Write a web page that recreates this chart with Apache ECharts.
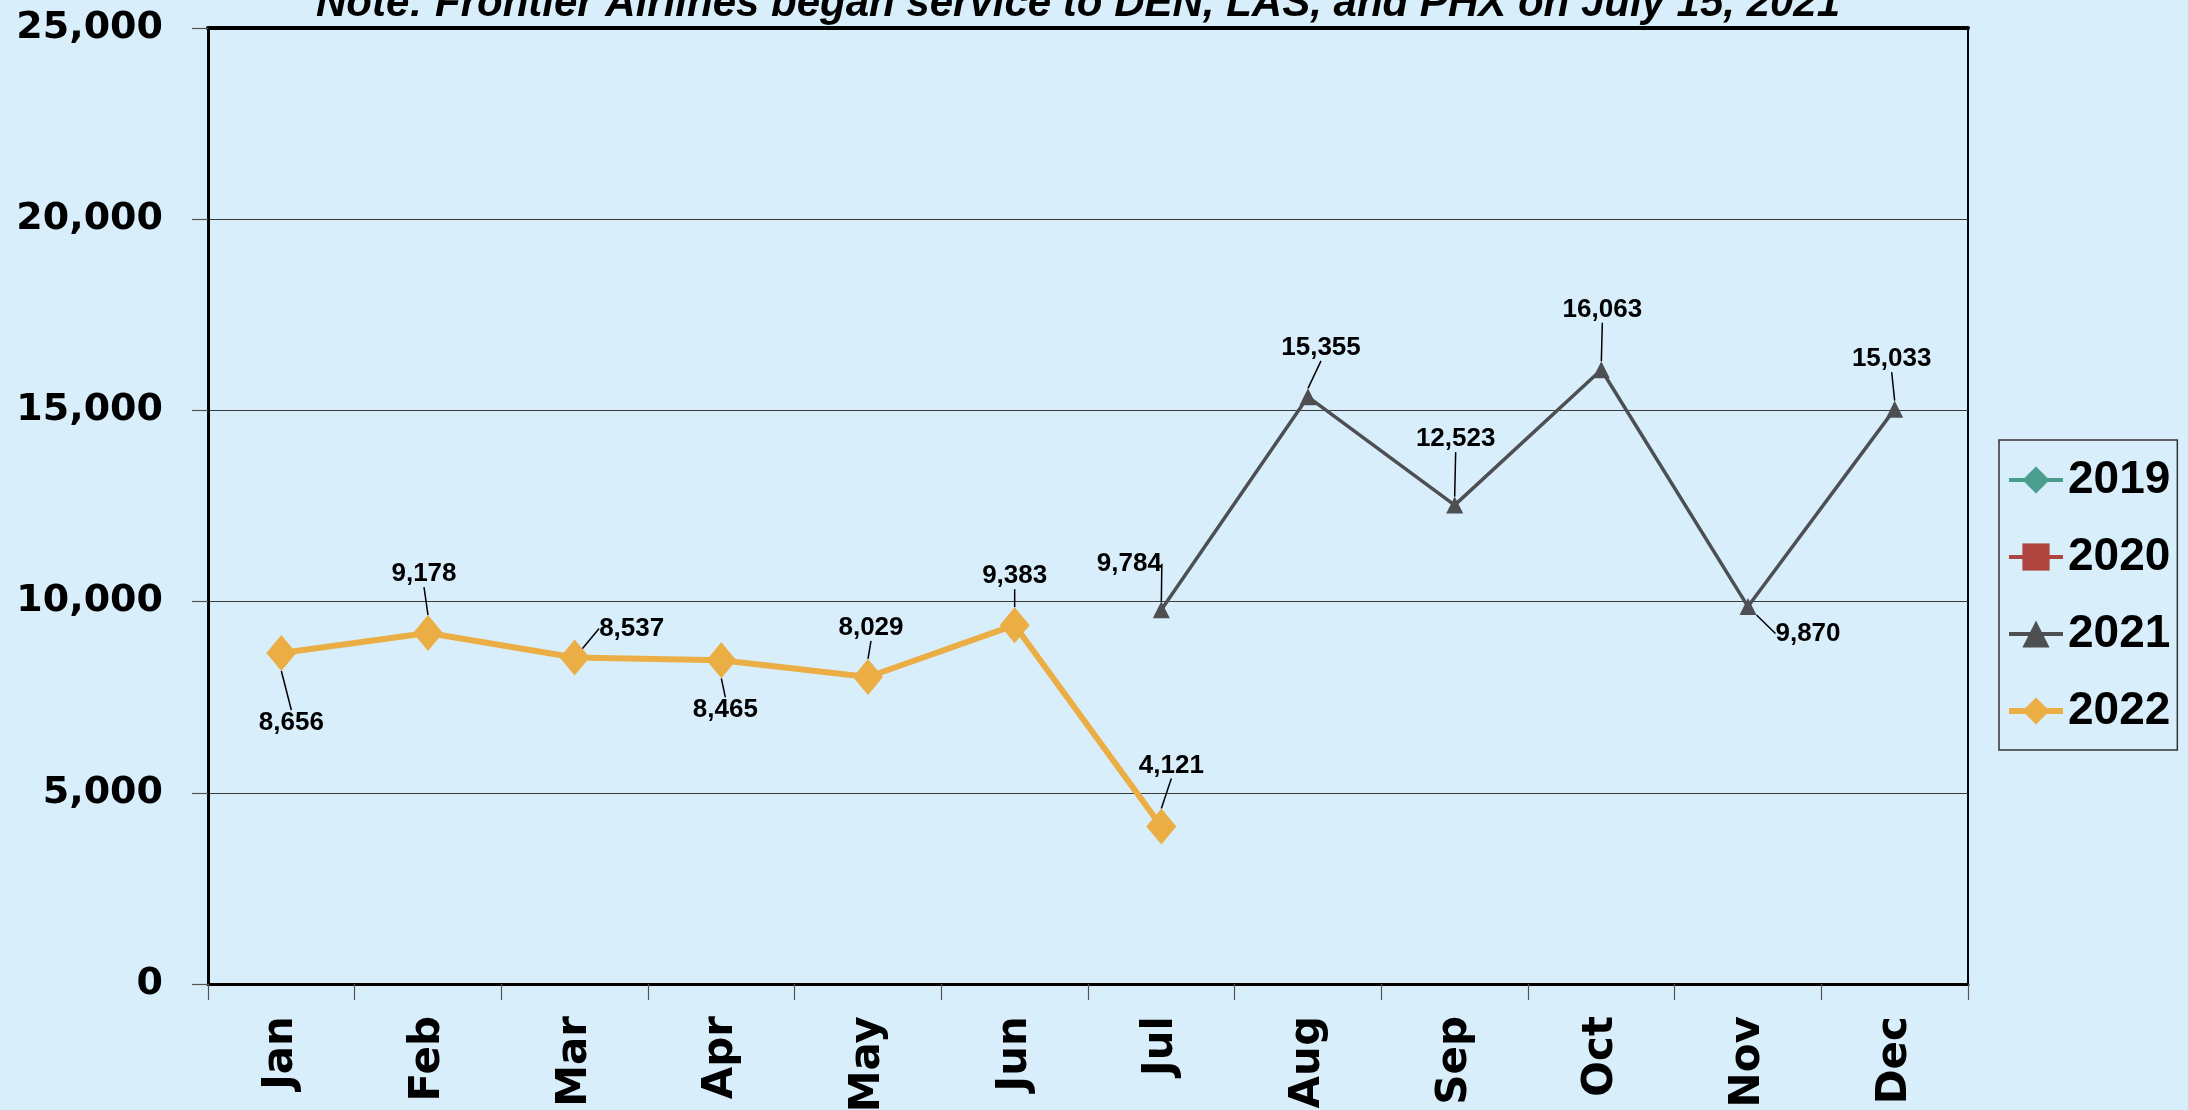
<!DOCTYPE html>
<html>
<head>
<meta charset="utf-8">
<script src="https://cdn.jsdelivr.net/npm/echarts@6/dist/echarts.min.js"></script>
<style>
  html, body { margin: 0; padding: 0; background: #d9eefb; }
  #chart { width: 2188px; height: 1110px; }
</style>
</head>
<body>
<div id="chart"></div>
<script>
// month categories
const months = ['Jan', 'Feb', 'Mar', 'Apr', 'May', 'Jun', 'Jul', 'Aug', 'Sep', 'Oct', 'Nov', 'Dec']
// yearly passengers, null where no service
const values2019 = [null, null, null, null, null, null, null, null, null, null, null, null]
const values2020 = [null, null, null, null, null, null, null, null, null, null, null, null]
const values2021 = [null, null, null, null, null, null, 9784, 15355, 12523, 16063, 9870, 15033]
const values2022 = [8656, 9178, 8537, 8465, 8029, 9383, 4121, null, null, null, null, null]
const yTicks = [0, 5000, 10000, 15000, 20000, 25000]

// where each data label sits relative to its point (px)
const offsets2021 = [null, null, null, null, null, null, [-32, -46], [13, -49], [1, -66], [1, -60], [60, 27], [-3, -50]]
const offsets2022 = [[10, 70], [-4, -59], [57, -29], [4, 50], [3, -49], [0, -49], [10, -61], null, null, null, null, null]

const chart = echarts.init(document.getElementById('chart'))

const fmt = (v) => Number(v).toLocaleString('en-US')

function labelLayoutFor (offsets) {
  return function (params) {
    const o = offsets[params.dataIndex]
    if (!o) return {}
    return { dx: o[0], dy: o[1] }
  }
}

const dataLabel = {
  show: true,
  position: 'inside',
  formatter: (p) => fmt(p.value),
  color: '#000',
  fontFamily: 'Liberation Sans, Arial, sans-serif',
  fontWeight: 'bold',
  fontSize: 26
}
const leader = {
  show: true,
  lineStyle: { color: '#000', width: 1.5 }
}

const option = {
  backgroundColor: '#d9eefb',
  animation: false,
  title: {
    text: 'Note: Frontier Airlines began service to DEN, LAS, and PHX on July 15, 2021',
    left: 316,
    top: -17,
    padding: 0,
    textStyle: {
      fontFamily: 'Liberation Sans, Arial, sans-serif',
      fontStyle: 'italic',
      fontWeight: 'bold',
      fontSize: 42,
      color: '#000'
    }
  },
  grid: {
    left: 208,
    right: 220,
    top: 28,
    bottom: 126,
    outerBoundsMode: 'none',
    show: true,
    backgroundColor: 'transparent',
    borderColor: '#000',
    borderWidth: 2
  },
  legend: {
    orient: 'vertical',
    left: 1999,
    top: 440,
    padding: [17, 7, 16, 7],
    itemGap: 31,
    itemWidth: 54,
    itemHeight: 34,
    borderColor: '#333',
    borderWidth: 1.5,
    data: [
      { name: '2019', lineStyle: { width: 4 } },
      { name: '2020', lineStyle: { width: 4 } },
      { name: '2021', lineStyle: { width: 4 } },
      { name: '2022', lineStyle: { width: 6 } }
    ],
    textStyle: {
      fontFamily: 'Liberation Sans, Arial, sans-serif',
      fontWeight: 'bold',
      fontSize: 46,
      lineHeight: 46,
      color: '#000'
    }
  },
  xAxis: [
    {
      type: 'category',
      data: months,
      boundaryGap: true,
      axisLine: { show: true, lineStyle: { color: '#000', width: 3 } },
      axisTick: { show: true, length: 16, lineStyle: { color: '#555', width: 1.2 } },
      axisLabel: {
        rotate: 90,
        margin: 32,
        color: '#000',
        fontFamily: 'DejaVu Sans, sans-serif',
        fontWeight: 'bold',
        fontSize: 42
      },
      splitLine: { show: false }
    },
    {
      // heavy frame line along the top
      type: 'category',
      position: 'top',
      data: months,
      axisLine: { show: true, lineStyle: { color: '#000', width: 4 } },
      axisTick: { show: false },
      axisLabel: { show: false },
      splitLine: { show: false }
    }
  ],
  yAxis: {
    type: 'value',
    min: yTicks[0],
    max: yTicks[yTicks.length - 1],
    interval: 5000,
    axisLine: { show: true, lineStyle: { color: '#000', width: 3 } },
    axisTick: { show: true, length: 16, lineStyle: { color: '#555', width: 1.2 } },
    axisLabel: {
      margin: 45,
      formatter: fmt,
      color: '#000',
      fontFamily: 'DejaVu Sans, sans-serif',
      fontWeight: 'bold',
      fontSize: 38
    },
    splitLine: { show: true, lineStyle: { color: '#3a3a3a', width: 1.2 } }
  },
  series: [
    {
      name: '2019',
      type: 'line',
      data: values2019,
      symbol: 'diamond',
      symbolSize: 18,
      color: '#4a9e8e',
      lineStyle: { width: 3 }
    },
    {
      name: '2020',
      type: 'line',
      data: values2020,
      symbol: 'rect',
      symbolSize: 18,
      color: '#b0443f',
      lineStyle: { width: 3 }
    },
    {
      name: '2021',
      type: 'line',
      data: values2021,
      symbol: 'triangle',
      symbolSize: 17,
      color: '#4d4f53',
      lineStyle: { width: 3.5 },
      label: dataLabel,
      labelLine: leader,
      labelLayout: labelLayoutFor(offsets2021)
    },
    {
      name: '2022',
      type: 'line',
      data: values2022,
      symbol: 'diamond',
      symbolSize: [30, 36],
      color: '#ebae45',
      lineStyle: { width: 6 },
      label: dataLabel,
      labelLine: leader,
      labelLayout: labelLayoutFor(offsets2022)
    }
  ]
}

chart.setOption(option)
</script>
</body>
</html>
